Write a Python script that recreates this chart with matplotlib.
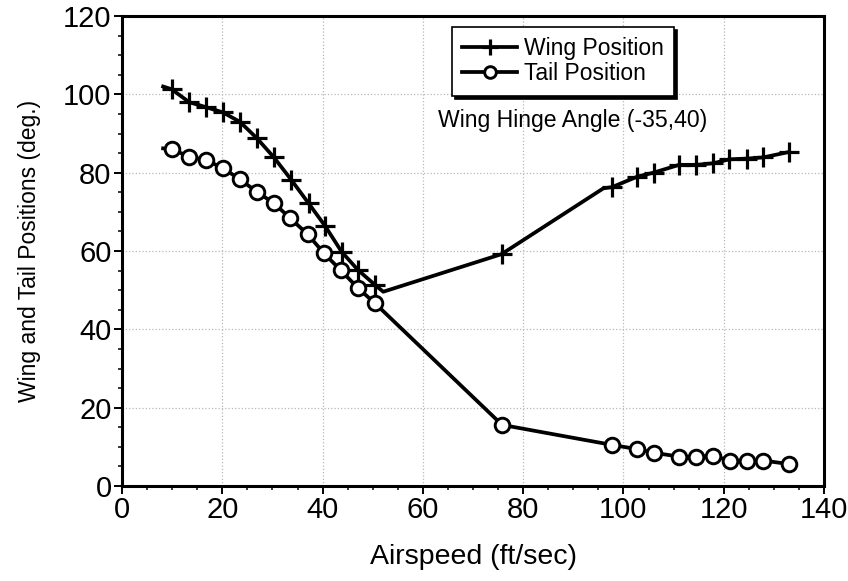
import matplotlib
matplotlib.use("Agg")
import matplotlib.pyplot as plt
from matplotlib.ticker import MultipleLocator

plt.rcParams['font.family'] = ['Liberation Sans', 'DejaVu Sans']

# Wing position vs airspeed (unmarked points are line vertices only)
wing_speed = [8.2, 9.9, 13.4, 16.8, 20.1, 23.5, 26.9, 30.3, 33.8, 37.2, 40.5,
              43.8, 47.1, 50.5, 52.1, 75.7, 96.0, 97.7, 102.8, 106.0, 111.1,
              114.5, 117.9, 121.1, 124.6, 127.9, 133.1]
wing_angle = [102.0, 101.3, 98.0, 96.7, 95.4, 93.0, 88.8, 83.9, 78.1, 72.2, 66.4,
              59.8, 55.1, 51.3, 49.6, 59.2, 76.0, 76.3, 79.0, 80.0, 82.0,
              82.0, 82.4, 83.4, 83.6, 83.9, 85.3]
wing_unmarked = [0, 14, 16]

# Tail position vs airspeed
tail_speed = [8.2, 9.9, 13.4, 16.8, 20.2, 23.5, 26.9, 30.3, 33.6, 37.0, 40.3,
              43.6, 47.1, 50.5, 75.8, 97.7, 102.8, 106.0, 111.1, 114.5, 117.9,
              121.2, 124.6, 127.9, 133.0]
tail_angle = [86.2, 86.0, 84.1, 83.2, 81.1, 78.3, 75.1, 72.2, 68.3, 64.3, 59.4,
              55.1, 50.5, 46.6, 15.6, 10.5, 9.4, 8.5, 7.5, 7.5, 7.7,
              6.5, 6.5, 6.5, 5.6]
tail_unmarked = [0]

x_ticks = [0, 20, 40, 60, 80, 100, 120, 140]
y_ticks = [0, 20, 40, 60, 80, 100, 120]

fig = plt.figure(figsize=(8.48, 5.81), dpi=100)
ax = fig.add_axes([122 / 848, 1 - 486 / 581, 702 / 848, 470 / 581])

wing_marks = [i for i in range(len(wing_speed)) if i not in wing_unmarked]
tail_marks = [i for i in range(len(tail_speed)) if i not in tail_unmarked]

ax.plot(wing_speed, wing_angle, color='black', lw=2.7, marker='+', ms=15,
        mew=2.3, markevery=wing_marks, label='Wing Position', zorder=3)
ax.plot(tail_speed, tail_angle, color='black', lw=2.7, marker='o', ms=10.5,
        mew=2.1, mfc='white', markevery=tail_marks, label='Tail Position',
        zorder=3)

ax.set_xlim(0, 140)
ax.set_ylim(0, 120)
ax.set_xticks(x_ticks)
ax.set_yticks(y_ticks)
ax.xaxis.set_minor_locator(MultipleLocator(5))
ax.yaxis.set_minor_locator(MultipleLocator(5))

ax.grid(True, which='major', color='#b8b8b8', linestyle=':', linewidth=0.9)
ax.set_axisbelow(True)

for sp in ax.spines.values():
    sp.set_linewidth(2.2)

ax.tick_params(which='major', direction='out', length=5.5, width=1.4,
               labelsize=21, pad=2)
ax.tick_params(which='minor', direction='out', length=3, width=1.1)

ax.set_xlabel('Airspeed (ft/sec)', fontsize=20.5, labelpad=14)
ax.set_ylabel('Wing and Tail Positions (deg.)', fontsize=16.5, labelpad=16)

leg = ax.legend(loc='upper left', bbox_to_anchor=(0.470, 0.977),
                borderaxespad=0, fontsize=16.5, frameon=True, fancybox=False,
                edgecolor='black', framealpha=1, handlelength=2.4,
                handletextpad=0.3, borderpad=0.45, labelspacing=0.1,
                markerscale=0.8, shadow={'color': 'black', 'alpha': 1})
leg.get_frame().set_linewidth(1.2)

ax.text(89.8, 93.4, 'Wing Hinge Angle (-35,40)', fontsize=16.6,
        ha='center', va='center')

fig.savefig('out.png', dpi=100)
